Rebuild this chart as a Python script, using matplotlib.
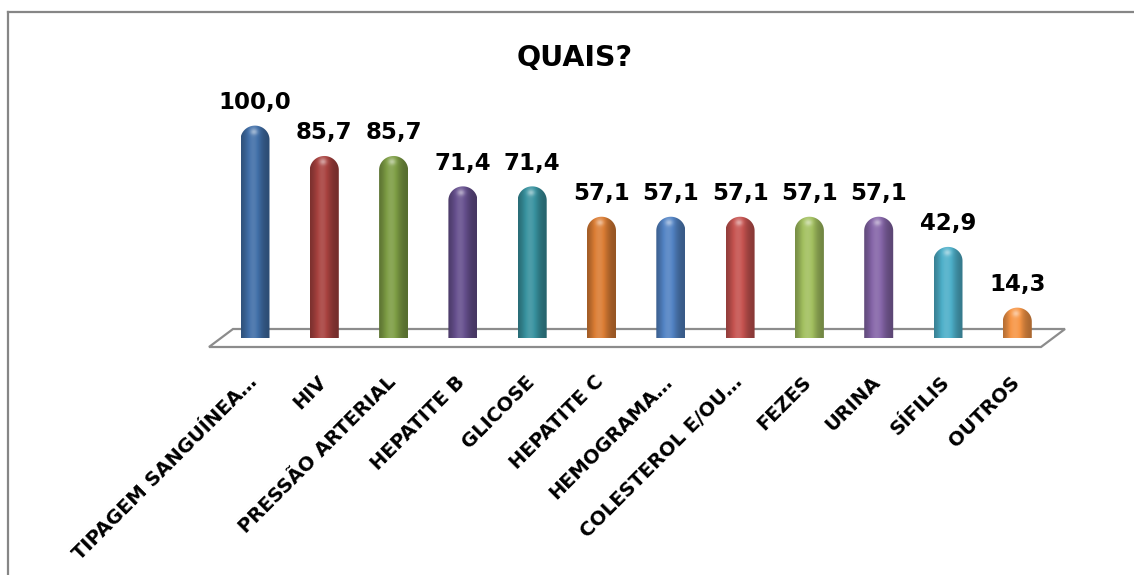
import numpy as np
import matplotlib
matplotlib.use("Agg")
import matplotlib.pyplot as plt
from matplotlib.patches import Polygon
from matplotlib.lines import Line2D
from matplotlib.colors import to_rgb

categories = [
    "TIPAGEM SANGUÍNEA…", "HIV", "PRESSÃO ARTERIAL", "HEPATITE B", "GLICOSE",
    "HEPATITE C", "HEMOGRAMA…", "COLESTEROL E/OU…", "FEZES", "URINA",
    "SÍFILIS", "OUTROS",
]
values = [100.0, 85.7, 85.7, 71.4, 71.4, 57.1, 57.1, 57.1, 57.1, 57.1, 42.9, 14.3]
bar_colors = [
    "#416FA8", "#A8423F", "#7E9E45", "#66508E", "#38929F", "#DB7D34",
    "#5283C4", "#C65350", "#A2C05F", "#8565A8", "#4DAFC9", "#F79646",
]
title = "QUAIS?"

W_PX, H_PX = 1134, 575
FONT = "DejaVu Sans"

fig = plt.figure(figsize=(W_PX / 100, H_PX / 100), dpi=100)

# plot area: category spacing ~69.3 px, 2.124 px per value unit, baseline at y=338 px
x_step, y_step, base_px = 69.3, 2.124, 338
x_lo, x_hi = -0.6, len(values) - 0.4
y_lo, y_hi = 0, 110
left_px = 255 + x_lo * x_step
ax = fig.add_axes([left_px / W_PX, (H_PX - base_px) / H_PX,
                   (x_hi - x_lo) * x_step / W_PX, (y_hi - y_lo) * y_step / H_PX])
ax.axis("off")


def px_to_data(px, py):
    return ((px - 255) / x_step, (base_px - py) / y_step)


# 3D floor
floor = [px_to_data(233, 329), px_to_data(1065, 329),
         px_to_data(1041, 347), px_to_data(209, 347)]
ax.add_patch(Polygon(floor, closed=True, facecolor="white", edgecolor="#8c8c8c",
                     lw=1.6, zorder=1, clip_on=False))

hw = 14.5 / x_step       # cylinder half width
ry = 14.0 / y_step       # dome height
ryb = 4.0 / y_step       # bottom ellipse


def shaded(base, v, nw=60, nh=240):
    c = np.array(to_rgb(base))
    u = np.linspace(0, 1, nw)
    f = 0.68 + 0.42 * np.exp(-((u - 0.42) / 0.3) ** 2)
    yy = np.linspace(-ryb, v, nh)
    F = np.tile(f, (nh, 1))
    # specular spot on the dome
    cy = v - ry * 0.45
    spot = 0.45 * np.exp(-((u[None, :] - 0.45) / 0.13) ** 2
                         - ((yy[:, None] - cy) / (ry * 0.22)) ** 2)
    img = np.empty((nh, nw, 3))
    for k in range(3):
        ch = np.where(F <= 1, c[k] * F, c[k] + (1 - c[k]) * (F - 1))
        ch = ch + (1 - ch) * spot
        img[:, :, k] = np.clip(ch, 0, 1)
    return img


for i, (v, col) in enumerate(zip(values, bar_colors)):
    t1 = np.linspace(np.pi, 2 * np.pi, 40)
    t2 = np.linspace(0, np.pi, 60)
    verts = np.vstack([
        np.column_stack([i + hw * np.cos(t1), ryb * np.sin(t1)]),
        np.column_stack([i + hw * np.cos(t2), (v - ry) + ry * np.sin(t2)]),
    ])
    clip = Polygon(verts, closed=True, facecolor="none", edgecolor="none")
    ax.add_patch(clip)
    im = ax.imshow(shaded(col, v), extent=[i - hw, i + hw, -ryb, v], origin="lower",
                   aspect="auto", interpolation="bilinear", zorder=3)
    im.set_clip_path(clip)

    ax.annotate(f"{v:.1f}".replace(".", ","), xy=(i, v), xytext=(0, 16.5),
                textcoords="offset pixels", ha="center", va="baseline",
                fontsize=16.5, fontweight="bold", family=FONT, annotation_clip=False)

    ax.annotate(categories[i], xy=(i, 0), xytext=(-1, -41), textcoords="offset pixels",
                ha="right", va="center", rotation=45, rotation_mode="anchor",
                fontsize=14, fontweight="bold", family=FONT, annotation_clip=False)

ax.set_xlim(x_lo, x_hi)
ax.set_ylim(y_lo, y_hi)

fig.text(575 / W_PX, (H_PX - 66) / H_PX, title, ha="center", va="baseline",
         fontsize=20.5, fontweight="bold", family=FONT)

# chart frame
fig.add_artist(Line2D([7.5 / W_PX, 7.5 / W_PX], [0, (H_PX - 12) / H_PX],
                      color="#868686", lw=1.6))
fig.add_artist(Line2D([7.5 / W_PX, 1], [(H_PX - 12) / H_PX, (H_PX - 12) / H_PX],
                      color="#868686", lw=1.6))

fig.savefig("out.png", dpi=100)
